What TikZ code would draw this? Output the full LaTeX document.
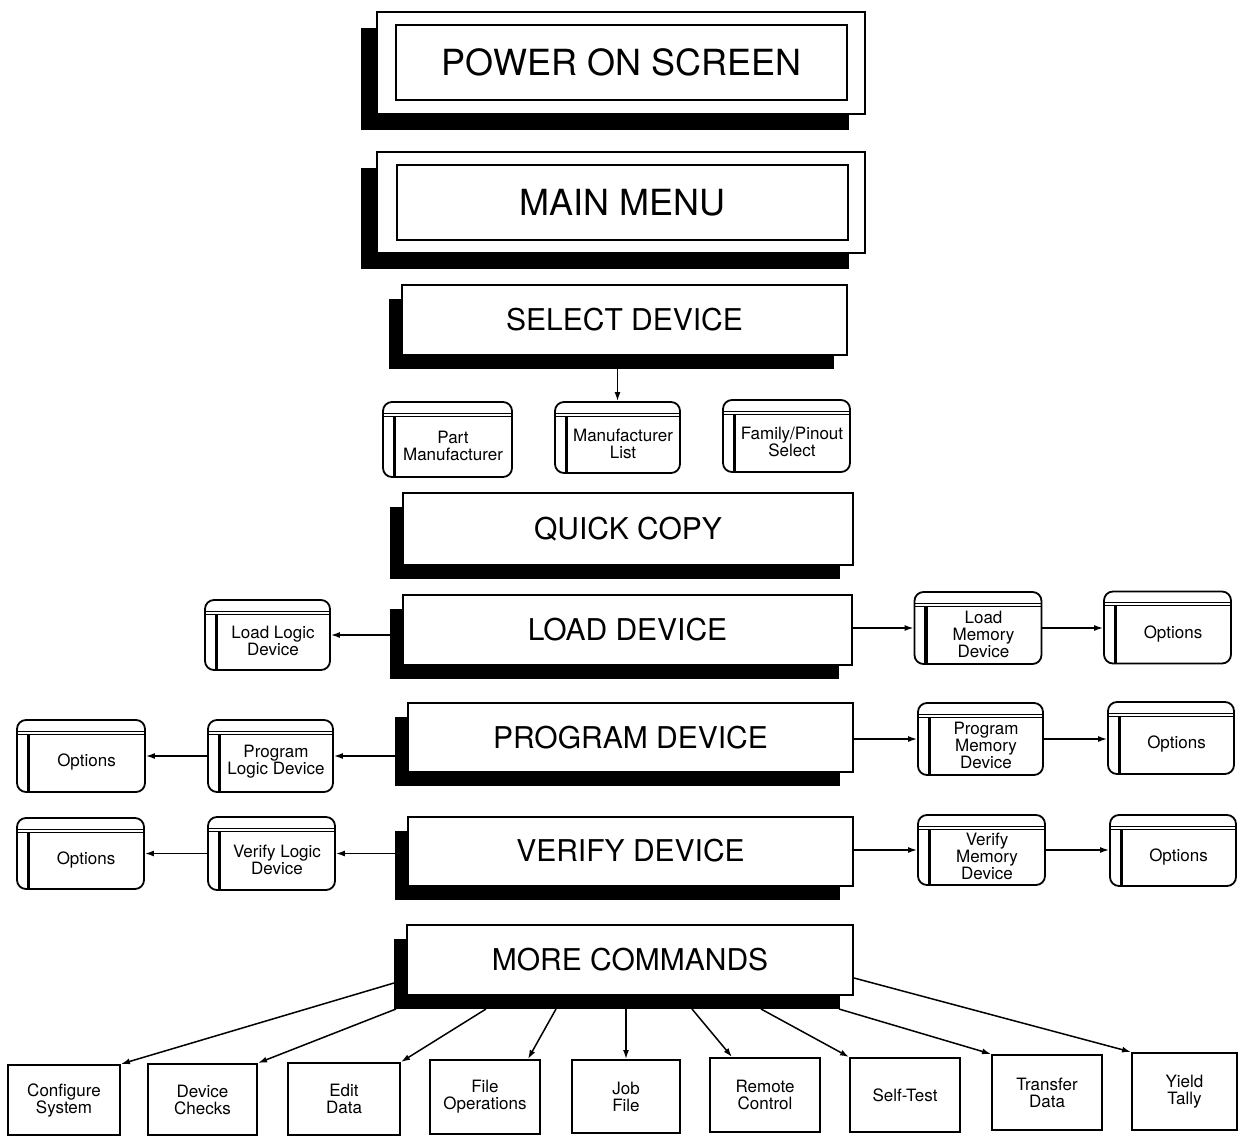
\documentclass[tikz,border=0pt]{standalone}
\usepackage{fontspec}
\setmainfont{TeX Gyre Heros}
\usetikzlibrary{arrows.meta,calc,shadows}

\begin{document}
\begin{tikzpicture}[x=1pt,y=-1pt,
  hugetxt/.style={font=\fontsize{36}{40}\selectfont},
  midtxt/.style={font=\fontsize{30}{34}\selectfont},
  smalltxt/.style={font=\fontsize{17}{17}\selectfont, align=center, inner sep=0pt},
  frame/.style={draw, line width=2pt, fill=white, inner sep=0pt},
  screen/.style={frame, general shadow={fill=black, shadow xshift=-16pt, shadow yshift=-16pt}},
  menubox/.style={frame, midtxt, minimum width=446pt, minimum height=70pt,
    general shadow={fill=black, shadow xshift=-13.5pt, shadow yshift=-14pt}},
  pane/.style={draw, line width=1.8pt, rounded corners=9pt, fill=white,
    minimum width=127pt, minimum height=72pt, inner sep=0pt,
    path picture={
      \draw[line width=1pt, sharp corners]
        ([yshift=-11pt]path picture bounding box.north west) -- ([yshift=-11pt]path picture bounding box.north east);
      \draw[line width=1pt, sharp corners]
        ([yshift=-14pt]path picture bounding box.north west) -- ([yshift=-14pt]path picture bounding box.north east);
      \draw[line width=3.5pt, sharp corners]
        ([xshift=11.5pt,yshift=-14pt]path picture bounding box.north west) -- ([xshift=11.5pt]path picture bounding box.south west);
    },
    label={[smalltxt, xshift=5.5pt, yshift=-6pt]center:#1}},
  leaf/.style={frame, smalltxt, minimum width=110pt, minimum height=72pt},
  conn/.style={line width=1.5pt, -{Latex[length=9pt,width=6pt]}},
]
\useasboundingbox (0,0) rectangle (1240,1137);
\fill[white] (0,0) rectangle (1240,1137);

% top-level screens with double frame
\node[screen, minimum width=488pt, minimum height=102pt] (pwr) at (621,63) {};
\node[frame, hugetxt, minimum width=451pt, minimum height=75pt] (pwrtxt) at (621.5,62.5) {POWER ON SCREEN};
\node[screen, minimum width=488pt, minimum height=101pt] (menu) at (621,202.5) {};
\node[frame, hugetxt, minimum width=451pt, minimum height=75pt] (menutxt) at (622.5,202.5) {MAIN MENU};

% main menu entries
\node[menubox, minimum width=445pt] (sel) at (624.5,320) {SELECT DEVICE};
\node[menubox, minimum width=450pt, minimum height=72pt] (qc) at (628,529) {QUICK COPY};
\node[menubox, minimum width=449pt] (load) at (627.5,630) {LOAD DEVICE};
\node[menubox, minimum width=445pt, minimum height=69pt] (prog) at (630.5,737.5) {PROGRAM DEVICE};
\node[menubox, minimum width=445pt, minimum height=69pt] (ver) at (630.5,851) {VERIFY DEVICE};
\node[menubox] (more) at (630,960) {MORE COMMANDS};

% device selection panes
\node[pane={Part\\Manufacturer}, minimum width=129pt, minimum height=75pt] (pm) at (447.5,439.5) {};
\node[pane={Manufacturer\\List}, minimum width=125pt, minimum height=71pt] (ml) at (617.5,437.5) {};
\node[pane={Family/Pinout\\Select}] (fp) at (786.5,436) {};

% load panes
\node[pane={Load Logic\\Device}, minimum width=125pt, minimum height=70pt] (lld) at (267.5,635) {};
\node[pane={Load\\Memory\\Device}] (lmd) at (978,628) {};
\node[pane={Options}] (lopt) at (1167.5,627.5) {};

% program panes
\node[pane={Program\\Logic Device}, minimum width=125pt] (pld) at (270.5,756) {};
\node[pane={Options}, minimum width=128pt] (poptl) at (81,756) {};
\node[pane={Program\\Memory\\Device}, minimum width=125pt] (pmd) at (980.5,739) {};
\node[pane={Options}, minimum width=126pt] (poptr) at (1171,738) {};

% verify panes
\node[pane={Verify Logic\\Device}, minimum height=73pt] (vld) at (271.5,853.5) {};
\node[pane={Options}, minimum height=71pt] (voptl) at (80.5,853.5) {};
\node[pane={Verify\\Memory\\Device}, minimum height=70pt] (vmd) at (981.5,850) {};
\node[pane={Options}, minimum width=126pt, minimum height=71pt] (voptr) at (1173,850.5) {};

% more commands
\node[leaf, minimum width=112pt, minimum height=70pt] (cfg) at (64,1100) {Configure\\System};
\node[leaf, minimum width=109pt, minimum height=71pt] (dc) at (202.5,1099.5) {Device\\Checks};
\node[leaf, minimum width=112pt] (ed) at (344,1099) {Edit\\Data};
\node[leaf, minimum height=74pt] (fo) at (485,1097) {File\\Operations};
\node[leaf, minimum width=108pt, minimum height=73pt] (jf) at (626,1096.5) {Job\\File};
\node[leaf, minimum height=74pt] (rc) at (765,1095) {Remote\\Control};
\node[leaf, minimum height=74pt] (st) at (905,1095) {Self-Test};
\node[leaf, minimum height=75pt] (td) at (1047,1092.5) {Transfer\\Data};
\node[leaf, minimum width=105pt, minimum height=77pt] (yt) at (1184.5,1091.5) {Yield\\Tally};

% connectors
\draw[conn] (sel.south -| ml.north) -- (ml.north);

\draw[conn] (lld.east -| load.west) -- (lld.east);
\draw[conn] (lmd.west -| load.east) -- (lmd.west);
\draw[conn] (lmd.east) -- (lmd.east -| lopt.west);

\draw[conn] (pld.east -| prog.west) -- (pld.east);
\draw[conn] (pld.west) -- (pld.west -| poptl.east);
\draw[conn] (pmd.west -| prog.east) -- (pmd.west);
\draw[conn] (pmd.east) -- (pmd.east -| poptr.west);

\draw[conn] (vld.east -| ver.west) -- (vld.east);
\draw[conn] (vld.west) -- (vld.west -| voptl.east);
\draw[conn] (vmd.west -| ver.east) -- (vmd.west);
\draw[conn] (vmd.east) -- (vmd.east -| voptr.west);

\draw[conn] ($(more.south west)+(-12,-13)$) -- (cfg.north east);
\draw[conn] ($(more.south west)+(-10,13)$) -- (dc.north east);
\draw[conn] ($(more.south west)+(80,13)$) -- (ed.north east);
\draw[conn] ($(more.south west)+(150,13)$) -- ($(fo.north east)+(-13,0)$);
\draw[conn] (more.south -| jf.north) -- (jf.north);
\draw[conn] ($(more.south west)+(286,13)$) -- ($(rc.north west)+(23,0)$);
\draw[conn] ($(more.south west)+(355,13)$) -- (st.north west);
\draw[conn] ($(more.south west)+(433,13)$) -- (td.north west);
\draw[conn] ($(more.east)+(0,18)$) -- (yt.north west);
\end{tikzpicture}
\end{document}
